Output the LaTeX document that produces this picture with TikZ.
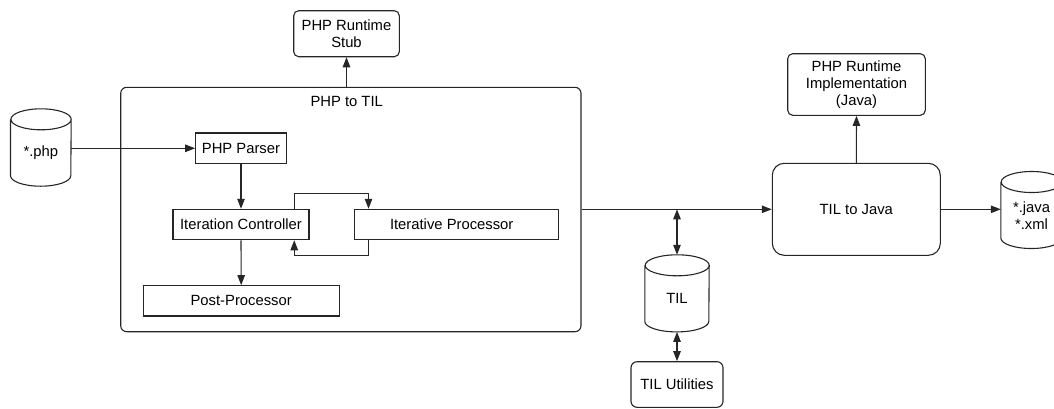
\documentclass[tikz,border=0pt]{standalone}
\usepackage{fontspec}
\setmainfont{Liberation Sans}
\usetikzlibrary{arrows.meta,calc}

% radius of the cylinder end ellipses
\newcommand\cylry{10.5pt}
% draws a storage cylinder around a body node (body = top ellipse centre to bottom)
\newcommand\drawdb[2]{%
  \draw[line] (#1.north west) -- ([yshift=\cylry]#1.south west)
    arc[start angle=180,end angle=360,x radius=#2,y radius=\cylry]
    -- (#1.north east)
    arc[start angle=0,end angle=360,x radius=#2,y radius=\cylry];}

\begin{document}
\begin{tikzpicture}[x=1pt,y=-1pt,
  font=\fontsize{14.8}{17}\selectfont,
  line/.style={draw=black!85,line width=1.1pt},
  box/.style={line,rectangle,inner sep=0pt,align=center},
  rbox/.style={box,rounded corners=5pt},
  dbbody/.style={rectangle,inner sep=0pt,align=center},
  arr/.style={line,-{Triangle[length=10pt,width=7.5pt]}},
  darr/.style={line,{Triangle[length=10pt,width=7.5pt]}-{Triangle[length=10pt,width=7.5pt]}}]
\useasboundingbox (0,0) rectangle (1054,408);

% runtime stub
\node[rbox,minimum width=105.6pt,minimum height=46pt] (stub) at (346.5,33.7)
  {PHP Runtime\\Stub};

% PHP to TIL container with its sub-steps
\node[box,rounded corners=6pt,minimum width=460.3pt,minimum height=244.4pt] (cont) at (350.85,209.5) {};
\node (contlabel) at (346.7,101.7) {PHP to TIL};
\node[box,minimum width=90.6pt,minimum height=30.7pt] (parser) at (241,148.3) {PHP Parser};
\node[box,minimum width=136pt,minimum height=30.4pt] (ic) at (241,224.5) {Iteration Controller};
\node[box,minimum width=204.3pt,minimum height=30.4pt] (ip) at (456.2,224.5) {\hspace*{-9pt}Iterative Processor};
\node[box,minimum width=196.3pt,minimum height=30.3pt] (post) at (241.2,300.8) {Post-Processor};

% TIL to Java and runtime implementation
\node[box,rounded corners=12pt,minimum width=168pt,minimum height=92pt] (tj) at (856.3,209.3) {TIL to Java};
\node[rbox,minimum width=137.6pt,minimum height=61.6pt] (impl) at (856.5,84.5)
  {PHP Runtime\\Implementation\\(Java)};

% TIL utilities
\node[rbox,rounded corners=6pt,minimum width=92pt,minimum height=45.6pt] (util) at (677,384.5) {TIL Utilities};

% storage cylinders
\node[dbbody,minimum width=60.3pt,minimum height=66.5pt] (php) at (40.85,152.75) {*.php};
\drawdb{php}{30.15pt}
\node[dbbody,minimum width=64pt,minimum height=66.2pt] (til) at (677,298.6) {TIL};
\drawdb{til}{32pt}
\node[dbbody,minimum width=61pt,minimum height=66.1pt] (java) at (1031.5,215.25) {*.java\\*.xml};
\drawdb{java}{30.5pt}

% connectors
\draw[arr] (php.east |- parser.west) -- (parser.west);
\draw[arr] (stub.south |- cont.north) -- (stub.south);
\draw[arr] (parser.south) -- (ic.north);
\draw[arr] (ic.south) -- (post.north);
\draw[arr] ([xshift=-15.3pt]ic.north east) -- ++(0,-15.6) -| ([xshift=15pt]ip.north west);
\draw[arr] ([xshift=15pt]ip.south west) -- ++(0,15.6) -| ([xshift=-15.3pt]ic.south east);
\draw[arr] (cont.east |- tj.west) -- (tj.west);
\draw[darr] (til.north |- tj.west) -- ([yshift=\cylry]til.north);
\draw[darr] (til.south) -- (util.north);
\draw[arr] (tj.north) -- (impl.south);
\draw[arr] (tj.east) -- (tj.east -| java.west);
\end{tikzpicture}
\end{document}
